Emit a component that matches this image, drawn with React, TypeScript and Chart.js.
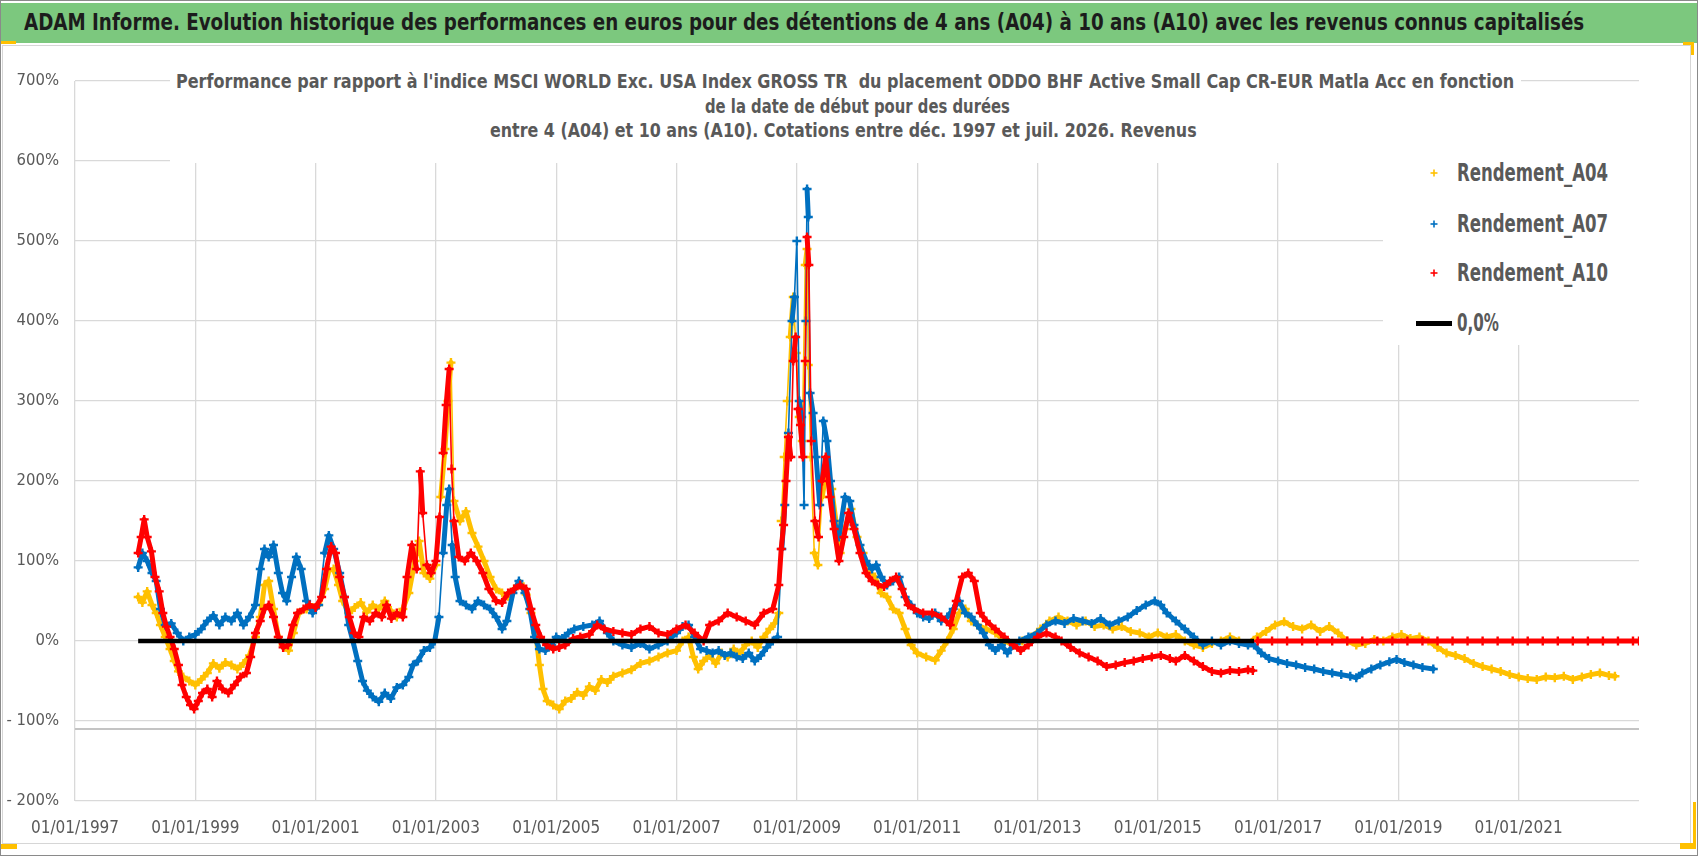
import React, { useEffect, useLayoutEffect, useRef, useState } from "react";
import { Chart, registerables } from "chart.js";

Chart.register(...registerables);

// ---------- texts ----------
const HEADER =
  "ADAM Informe. Evolution historique des performances en euros pour des détentions de 4 ans (A04) à 10 ans (A10) avec les revenus connus capitalisés";
const TITLE_LINES = [
  "Performance par rapport à l'indice MSCI WORLD Exc. USA Index GROSS TR  du placement ODDO BHF Active Small Cap CR-EUR Matla Acc en fonction",
  "de la date de début pour des durées",
  "entre 4 (A04) et 10 ans (A10). Cotations entre déc. 1997 et juil. 2026. Revenus",
];
const SERIES_NAMES = ["Rendement_A04", "Rendement_A07", "Rendement_A10", "0,0%"];

// ---------- axes ----------
const X_MIN = 1997;
const X_MAX = 2023;
const X_TICK_YEARS = [1997, 1999, 2001, 2003, 2005, 2007, 2009, 2011, 2013, 2015, 2017, 2019, 2021];
const Y_MIN = -200;
const Y_MAX = 700;
const Y_STEP = 100;
const AXIS_CROSS = -110;

// ---------- data: [year, performance %] ----------
const A04: [number, number][] = [
  [1998.05, 55], [1998.12, 48], [1998.2, 62], [1998.28, 45], [1998.35, 35], [1998.42, 20], [1998.5, 5], [1998.58, -10],
  [1998.65, -25], [1998.72, -38], [1998.8, -45], [1998.9, -50], [1999.0, -55], [1999.1, -48], [1999.2, -40], [1999.3, -28],
  [1999.4, -34], [1999.5, -27], [1999.6, -30], [1999.7, -35], [1999.8, -28], [1999.9, -18], [2000.0, 5], [2000.08, 30],
  [2000.15, 70], [2000.22, 75], [2000.3, 40], [2000.38, 5], [2000.46, -5], [2000.55, -12], [2000.63, 10], [2000.72, 35],
  [2000.85, 40], [2000.95, 42], [2001.05, 45], [2001.15, 65], [2001.22, 88], [2001.3, 90], [2001.38, 70], [2001.45, 50],
  [2001.55, 35], [2001.65, 42], [2001.75, 48], [2001.85, 36], [2001.95, 45], [2002.05, 40], [2002.15, 50], [2002.25, 38],
  [2002.35, 30], [2002.45, 40], [2002.55, 60], [2002.65, 100], [2002.72, 125], [2002.8, 85], [2002.9, 78], [2003.0, 95],
  [2003.08, 180], [2003.15, 240], [2003.2, 300], [2003.25, 348], [2003.3, 175], [2003.4, 150], [2003.5, 162], [2003.6, 135],
  [2003.7, 118], [2003.8, 100], [2003.9, 80], [2004.0, 65], [2004.1, 60], [2004.2, 56], [2004.3, 65], [2004.4, 72],
  [2004.5, 58], [2004.58, 35], [2004.66, 10], [2004.72, -30], [2004.78, -60], [2004.85, -75], [2004.95, -80], [2005.05, -85],
  [2005.15, -75], [2005.25, -72], [2005.35, -64], [2005.45, -68], [2005.55, -57], [2005.65, -62], [2005.75, -48], [2005.85, -52],
  [2005.95, -44], [2006.1, -40], [2006.25, -36], [2006.4, -28], [2006.55, -25], [2006.7, -20], [2006.85, -15], [2007.0, -12],
  [2007.1, 0], [2007.2, 5], [2007.28, -20], [2007.36, -35], [2007.45, -25], [2007.55, -18], [2007.65, -28], [2007.75, -15],
  [2007.85, -20], [2007.95, -10], [2008.05, -15], [2008.15, -5], [2008.25, 0], [2008.35, -8], [2008.45, 5], [2008.55, 15],
  [2008.63, 22], [2008.7, 35], [2008.74, 150], [2008.79, 230], [2008.84, 300], [2008.89, 380], [2008.94, 430], [2008.99, 360],
  [2009.04, 280], [2009.09, 250], [2009.14, 470], [2009.17, 490], [2009.19, 345], [2009.23, 230], [2009.29, 110], [2009.35, 95],
  [2009.42, 180], [2009.5, 215], [2009.58, 190], [2009.65, 150], [2009.72, 110], [2009.8, 140], [2009.9, 165], [2010.0, 130],
  [2010.1, 110], [2010.2, 85], [2010.3, 80], [2010.4, 60], [2010.5, 55], [2010.6, 40], [2010.7, 35], [2010.8, 15],
  [2010.9, -5], [2011.0, -15], [2011.15, -20], [2011.3, -24], [2011.4, -12], [2011.5, 0], [2011.6, 15], [2011.7, 35],
  [2011.8, 40], [2011.9, 25], [2012.0, 20], [2012.15, 15], [2012.3, 10], [2012.45, 0], [2012.6, -5], [2012.75, 0],
  [2012.9, 5], [2013.05, 15], [2013.2, 25], [2013.35, 30], [2013.5, 25], [2013.65, 20], [2013.8, 25], [2013.95, 18],
  [2014.1, 20], [2014.25, 15], [2014.4, 18], [2014.55, 12], [2014.7, 10], [2014.85, 5], [2015.0, 10], [2015.15, 5],
  [2015.3, 8], [2015.45, 0], [2015.6, -5], [2015.75, -8], [2015.9, -3], [2016.05, 0], [2016.2, 5], [2016.35, 0],
  [2016.5, -3], [2016.65, 5], [2016.8, 12], [2016.95, 20], [2017.1, 24], [2017.25, 18], [2017.4, 15], [2017.55, 20],
  [2017.7, 12], [2017.85, 18], [2018.0, 10], [2018.15, 0], [2018.3, -5], [2018.45, -3], [2018.6, 2], [2018.75, 0],
  [2018.9, 5], [2019.05, 8], [2019.2, 3], [2019.35, 5], [2019.5, 0], [2019.65, -8], [2019.8, -15], [2019.95, -18],
  [2020.1, -22], [2020.25, -28], [2020.4, -32], [2020.55, -35], [2020.7, -38], [2020.85, -42], [2021.0, -45], [2021.15, -47],
  [2021.3, -48], [2021.45, -45], [2021.6, -46], [2021.75, -44], [2021.9, -48], [2022.05, -45], [2022.2, -42], [2022.35, -40],
  [2022.5, -43], [2022.6, -44],
];

const A07: [number, number][] = [
  [1998.05, 92], [1998.12, 110], [1998.2, 100], [1998.28, 85], [1998.35, 75], [1998.42, 40], [1998.5, 20], [1998.6, 22],
  [1998.7, 10], [1998.8, 0], [1998.9, 5], [1999.0, 8], [1999.1, 15], [1999.2, 25], [1999.3, 32], [1999.4, 20],
  [1999.5, 30], [1999.6, 25], [1999.7, 35], [1999.8, 20], [1999.9, 30], [2000.0, 45], [2000.08, 90], [2000.15, 115],
  [2000.22, 105], [2000.3, 120], [2000.38, 85], [2000.45, 60], [2000.52, 50], [2000.6, 80], [2000.68, 105], [2000.76, 90],
  [2000.85, 50], [2000.95, 35], [2001.05, 45], [2001.15, 110], [2001.22, 132], [2001.3, 115], [2001.4, 85], [2001.48, 55],
  [2001.55, 20], [2001.62, 0], [2001.7, -25], [2001.78, -50], [2001.86, -62], [2001.95, -70], [2002.05, -76], [2002.15, -65],
  [2002.25, -72], [2002.35, -58], [2002.45, -55], [2002.55, -45], [2002.62, -30], [2002.7, -25], [2002.8, -12], [2002.9, -8],
  [2002.98, 0], [2003.05, 30], [2003.12, 110], [2003.18, 170], [2003.22, 190], [2003.27, 120], [2003.32, 80], [2003.4, 50],
  [2003.5, 45], [2003.6, 40], [2003.7, 50], [2003.8, 45], [2003.9, 40], [2004.0, 30], [2004.1, 15], [2004.18, 25],
  [2004.28, 60], [2004.38, 75], [2004.48, 60], [2004.56, 40], [2004.64, 5], [2004.72, -10], [2004.82, -12], [2004.92, -5],
  [2005.0, 5], [2005.1, 3], [2005.2, 10], [2005.3, 15], [2005.45, 18], [2005.6, 20], [2005.72, 25], [2005.85, 10],
  [2005.95, 0], [2006.1, -5], [2006.25, -8], [2006.4, -3], [2006.55, -10], [2006.7, -5], [2006.85, 0], [2007.0, 10],
  [2007.1, 18], [2007.2, 20], [2007.3, 5], [2007.4, -10], [2007.5, -12], [2007.6, -15], [2007.7, -12], [2007.8, -18],
  [2007.9, -15], [2008.0, -20], [2008.1, -22], [2008.2, -15], [2008.3, -25], [2008.4, -18], [2008.5, -8], [2008.6, 0],
  [2008.68, 5], [2008.75, 115], [2008.8, 170], [2008.86, 260], [2008.92, 400], [2008.96, 430], [2009.0, 500], [2009.04, 300],
  [2009.08, 280], [2009.12, 170], [2009.15, 400], [2009.17, 565], [2009.19, 530], [2009.22, 310], [2009.27, 285], [2009.32, 230],
  [2009.38, 170], [2009.44, 275], [2009.5, 250], [2009.56, 200], [2009.62, 150], [2009.7, 130], [2009.8, 180], [2009.88, 175],
  [2009.95, 145], [2010.05, 120], [2010.15, 100], [2010.25, 90], [2010.32, 95], [2010.4, 80], [2010.5, 70], [2010.6, 75],
  [2010.7, 80], [2010.8, 55], [2010.9, 45], [2011.0, 35], [2011.1, 30], [2011.2, 28], [2011.3, 35], [2011.4, 25],
  [2011.5, 30], [2011.6, 40], [2011.7, 50], [2011.8, 35], [2011.9, 30], [2012.0, 20], [2012.1, 10], [2012.2, -5],
  [2012.3, -12], [2012.4, -5], [2012.5, -15], [2012.6, -5], [2012.7, 0], [2012.85, 5], [2013.0, 10], [2013.15, 20],
  [2013.3, 25], [2013.45, 22], [2013.6, 28], [2013.75, 25], [2013.9, 22], [2014.05, 28], [2014.2, 20], [2014.35, 25],
  [2014.5, 30], [2014.65, 38], [2014.8, 45], [2014.95, 50], [2015.05, 45], [2015.15, 35], [2015.3, 25], [2015.45, 15],
  [2015.6, 5], [2015.75, -5], [2015.9, 0], [2016.05, -5], [2016.2, 0], [2016.35, -3], [2016.5, -5], [2016.6, -5],
  [2016.72, -15], [2016.85, -22], [2017.0, -25], [2017.15, -28], [2017.3, -30], [2017.45, -33], [2017.6, -35], [2017.75, -38],
  [2017.9, -40], [2018.05, -42], [2018.2, -44], [2018.3, -46], [2018.4, -40], [2018.55, -35], [2018.7, -30], [2018.85, -26],
  [2018.97, -23], [2019.1, -27], [2019.25, -30], [2019.4, -33], [2019.58, -35],
];

const A10: [number, number][] = [
  [1998.05, 110], [1998.1, 130], [1998.15, 152], [1998.2, 130], [1998.27, 112], [1998.33, 80], [1998.4, 62], [1998.46, 35],
  [1998.52, 18], [1998.58, 5], [1998.65, -10], [1998.72, -30], [1998.78, -55], [1998.85, -70], [1998.92, -80], [1998.98, -85],
  [1999.05, -75], [1999.12, -65], [1999.2, -60], [1999.28, -70], [1999.36, -50], [1999.45, -60], [1999.55, -65], [1999.65, -55],
  [1999.75, -45], [1999.85, -40], [1999.92, -20], [2000.0, 10], [2000.08, 25], [2000.15, 40], [2000.22, 45], [2000.3, 30],
  [2000.38, 5], [2000.46, -8], [2000.54, -5], [2000.62, 20], [2000.7, 35], [2000.8, 40], [2000.9, 45], [2001.0, 42],
  [2001.1, 55], [2001.18, 90], [2001.26, 118], [2001.33, 110], [2001.4, 80], [2001.48, 55], [2001.56, 30], [2001.64, 10],
  [2001.72, 5], [2001.8, 30], [2001.9, 25], [2002.0, 35], [2002.1, 30], [2002.18, 45], [2002.26, 28], [2002.35, 35],
  [2002.45, 30], [2002.52, 80], [2002.6, 120], [2002.68, 90], [2002.74, 212], [2002.78, 160], [2002.85, 95], [2002.92, 85],
  [2003.0, 100], [2003.06, 155], [2003.12, 235], [2003.17, 295], [2003.22, 340], [2003.26, 215], [2003.3, 150], [2003.38, 105],
  [2003.48, 100], [2003.58, 110], [2003.68, 100], [2003.78, 85], [2003.88, 65], [2004.0, 50], [2004.1, 48], [2004.2, 60],
  [2004.3, 65], [2004.4, 70], [2004.5, 65], [2004.58, 40], [2004.66, 20], [2004.74, 5], [2004.84, -5], [2004.95, -10],
  [2005.05, -8], [2005.15, -5], [2005.28, 3], [2005.4, 5], [2005.55, 8], [2005.68, 20], [2005.8, 15], [2005.95, 12],
  [2006.1, 10], [2006.25, 8], [2006.4, 15], [2006.55, 18], [2006.7, 10], [2006.85, 8], [2007.0, 15], [2007.15, 20],
  [2007.3, 10], [2007.45, 0], [2007.55, 20], [2007.7, 25], [2007.85, 35], [2008.0, 30], [2008.15, 25], [2008.3, 20],
  [2008.45, 35], [2008.6, 40], [2008.7, 70], [2008.74, 115], [2008.78, 145], [2008.82, 200], [2008.86, 255], [2008.9, 230],
  [2008.94, 350], [2008.98, 380], [2009.02, 290], [2009.06, 270], [2009.1, 230], [2009.14, 350], [2009.17, 505], [2009.2, 470],
  [2009.24, 250], [2009.3, 150], [2009.36, 130], [2009.42, 200], [2009.48, 230], [2009.55, 180], [2009.62, 140], [2009.7, 100],
  [2009.78, 130], [2009.86, 160], [2009.95, 140], [2010.05, 110], [2010.15, 85], [2010.25, 75], [2010.35, 70], [2010.45, 68],
  [2010.55, 75], [2010.65, 80], [2010.75, 65], [2010.85, 45], [2010.95, 40], [2011.1, 35], [2011.25, 35], [2011.4, 30],
  [2011.55, 20], [2011.65, 50], [2011.75, 80], [2011.85, 85], [2011.95, 75], [2012.05, 35], [2012.15, 25], [2012.3, 15],
  [2012.45, 5], [2012.6, -5], [2012.72, -12], [2012.85, -5], [2013.0, 5], [2013.15, 10], [2013.3, 5], [2013.4, 0],
  [2013.55, -8], [2013.7, -15], [2013.85, -20], [2014.0, -25], [2014.15, -32], [2014.3, -30], [2014.45, -27], [2014.6, -25],
  [2014.75, -22], [2014.9, -20], [2015.05, -18], [2015.2, -22], [2015.3, -25], [2015.45, -18], [2015.6, -25], [2015.75, -32],
  [2015.9, -38], [2016.05, -40], [2016.2, -37], [2016.35, -38], [2016.5, -36], [2016.58, -37],
];

const A10_ZERO_TAIL: [number, number][] = [
  [2016.66, 0], [2016.9, 0], [2017.15, 0], [2017.4, 0], [2017.65, 0], [2017.9, 0], [2018.15, 0], [2018.4, 0],
  [2018.65, 0], [2018.9, 0], [2019.15, 0], [2019.4, 0], [2019.65, 0], [2019.9, 0], [2020.15, 0], [2020.4, 0],
  [2020.65, 0], [2020.9, 0], [2021.15, 0], [2021.4, 0], [2021.65, 0], [2021.9, 0], [2022.15, 0], [2022.4, 0],
  [2022.65, 0], [2022.9, 0], [2023.0, 0],
];

const ZERO_LINE: [number, number][] = [[1998.05, 0], [2016.6, 0]];

// ---------- styles ----------
const COLORS = { a04: "#FFC000", a07: "#0070C0", a10: "#FF0000", zero: "#000000" };
const NARROW = "'Liberation Sans Narrow', 'DejaVu Sans Condensed', 'Liberation Sans', sans-serif";
const GRID = "#d9d9d9";
const TEXT_GRAY = "#595959";
const JUMP_LIMIT = 60; // percent: bigger jumps are drawn with a thin connector

const toXY = (pts: [number, number][]) => pts.map(([x, y]) => ({ x, y }));

const crossLinePlugin = {
  id: "crossLine",
  beforeDatasetsDraw(chart: any) {
    const { ctx, chartArea, scales } = chart;
    const y = scales.y.getPixelForValue(AXIS_CROSS);
    ctx.save();
    ctx.strokeStyle = "#c4c4c4";
    ctx.lineWidth = 2;
    ctx.beginPath();
    ctx.moveTo(chartArea.left, y);
    ctx.lineTo(chartArea.right, y);
    ctx.stroke();
    ctx.restore();
  },
};

function FitText(props: {
  text: string; x0: number; x1: number; cy: number; size: number; weight?: number; color: string;
}) {
  const { text, x0, x1, cy, size, weight = 700, color } = props;
  const ref = useRef<HTMLDivElement>(null);
  const [sx, setSx] = useState(1);
  useLayoutEffect(() => {
    const el = ref.current;
    if (!el) return;
    const w = el.offsetWidth;
    if (w > 0) setSx((x1 - x0) / w);
  }, [text, x0, x1, size]);
  return (
    <div
      ref={ref}
      style={{
        position: "absolute",
        left: x0,
        top: cy - size * 0.6,
        fontSize: size,
        lineHeight: `${size * 1.2}px`,
        fontWeight: weight,
        fontFamily: NARROW,
        color,
        whiteSpace: "pre",
        transform: `scaleX(${sx})`,
        transformOrigin: "0 50%",
        zIndex: 4,
      }}
    >
      {text}
    </div>
  );
}

function CrossMark({ cx, cy, color }: { cx: number; cy: number; color: string }) {
  return (
    <svg style={{ position: "absolute", left: cx - 5, top: cy - 5, zIndex: 4 }} width={10} height={10}>
      <line x1={1.5} y1={5} x2={8.5} y2={5} stroke={color} strokeWidth={1.6} />
      <line x1={5} y1={1.5} x2={5} y2={8.5} stroke={color} strokeWidth={1.6} />
    </svg>
  );
}

export default function App() {
  const canvasRef = useRef<HTMLCanvasElement>(null);

  useEffect(() => {
    document.body.style.margin = "0";
    const canvas = canvasRef.current;
    if (!canvas) return;
    const pointDs = (label: string, data: [number, number][], color: string, order: number) => ({
      label,
      data: toXY(data),
      showLine: true,
      borderColor: color,
      backgroundColor: color,
      borderWidth: 5,
      borderJoinStyle: "round",
      borderCapStyle: "round",
      segment: {
        borderWidth: (ctx: any) =>
          Math.abs(ctx.p1.parsed.y - ctx.p0.parsed.y) > JUMP_LIMIT ? 1.6 : 5,
      },
      pointStyle: "cross",
      pointRadius: 4.5,
      pointBorderWidth: 2.4,
      pointBorderColor: color,
      pointBackgroundColor: color,
      order,
    });
    const chart = new Chart(canvas, {
      type: "scatter",
      data: {
        datasets: [
          {
            label: SERIES_NAMES[3],
            data: toXY(ZERO_LINE),
            showLine: true,
            borderColor: COLORS.zero,
            backgroundColor: COLORS.zero,
            borderWidth: 4.5,
            pointRadius: 0,
            order: 0,
          } as any,
          pointDs(SERIES_NAMES[2], A10, COLORS.a10, 1),
          pointDs(SERIES_NAMES[2], A10_ZERO_TAIL, COLORS.a10, 1),
          pointDs(SERIES_NAMES[1], A07, COLORS.a07, 2),
          pointDs(SERIES_NAMES[0], A04, COLORS.a04, 3),
        ],
      },
      options: {
        animation: false,
        responsive: false,
        devicePixelRatio: 1,
        layout: { padding: { left: 0, top: 81, right: 59, bottom: 13 } },
        plugins: {
          legend: { display: false },
          title: { display: false },
          tooltip: { enabled: false },
        },
        scales: {
          x: {
            type: "linear",
            min: X_MIN,
            max: X_MAX,
            afterBuildTicks: (scale: any) => {
              scale.ticks = X_TICK_YEARS.map((v) => ({ value: v }));
            },
            afterFit: (scale: any) => {
              scale.height = 42;
            },
            grid: { color: GRID, lineWidth: 1.3, drawTicks: false },
            border: { display: false },
            ticks: {
              autoSkip: false,
              maxRotation: 0,
              minRotation: 0,
              padding: 17,
              color: TEXT_GRAY,
              font: { family: NARROW, size: 17 },
              callback: (v: any) => `01/01/${v}`,
            },
          },
          y: {
            type: "linear",
            min: Y_MIN,
            max: Y_MAX,
            afterFit: (scale: any) => {
              scale.width = 75;
            },
            grid: { color: GRID, lineWidth: 1.3, drawTicks: false },
            border: { display: false },
            ticks: {
              stepSize: Y_STEP,
              padding: 16,
              color: TEXT_GRAY,
              font: { family: NARROW, size: 16.5 },
              callback: (v: any) => (Number(v) < 0 ? `- ${Math.abs(Number(v))}%` : `${v}%`),
            },
          },
        },
      } as any,
      plugins: [crossLinePlugin],
    });
    return () => chart.destroy();
  }, []);

  const legendItems = [
    { name: SERIES_NAMES[0], color: COLORS.a04, cy: 173 },
    { name: SERIES_NAMES[1], color: COLORS.a07, cy: 224 },
    { name: SERIES_NAMES[2], color: COLORS.a10, cy: 273 },
  ];

  return (
    <div style={{ position: "absolute", left: 0, top: 0, width: 1698, height: 856, background: "#fff", overflow: "hidden" }}>
      <div style={{ position: "absolute", left: 0, top: 0, width: 1696, height: 854, border: "1px solid #8a8a8a", zIndex: 6, pointerEvents: "none" }} />
      <div style={{ position: "absolute", left: 1, top: 3, width: 1696, height: 40, background: "#7cc87e", zIndex: 2 }} />
      <FitText text={HEADER} x0={24} x1={1584} cy={23} size={23} color="#1c1c1c" />
      <div style={{ position: "absolute", left: 2, top: 45, width: 1687, height: 797, border: "1px solid #d6d6d6", zIndex: 1, pointerEvents: "none" }} />
      <canvas
        ref={canvasRef}
        width={1698}
        height={856}
        style={{ position: "absolute", left: 0, top: 0, width: 1698, height: 856, zIndex: 1 }}
      />
      <div style={{ position: "absolute", left: 170, top: 66, width: 1351, height: 97, background: "#fff", zIndex: 3 }} />
      <FitText text={TITLE_LINES[0]} x0={176} x1={1514} cy={81} size={20} color={TEXT_GRAY} />
      <FitText text={TITLE_LINES[1]} x0={705} x1={1010} cy={106} size={20} color={TEXT_GRAY} />
      <FitText text={TITLE_LINES[2]} x0={490} x1={1197} cy={130} size={20} color={TEXT_GRAY} />
      <div style={{ position: "absolute", left: 1383, top: 150, width: 262, height: 195, background: "#fff", zIndex: 3 }} />
      {legendItems.map((it) => (
        <React.Fragment key={it.name}>
          <CrossMark cx={1434} cy={it.cy} color={it.color} />
          <FitText text={it.name} x0={1457} x1={1608} cy={it.cy} size={24} color={TEXT_GRAY} />
        </React.Fragment>
      ))}
      <div style={{ position: "absolute", left: 1416, top: 321, width: 36, height: 4.5, background: "#000", zIndex: 4 }} />
      <FitText text={SERIES_NAMES[3]} x0={1457} x1={1499} cy={323} size={24} color={TEXT_GRAY} />
      <div style={{ position: "absolute", left: 0, top: 41, width: 16, height: 3, background: "#FFC000", zIndex: 5 }} />
      <div style={{ position: "absolute", left: 1683, top: 42, width: 11, height: 3, background: "#FFC000", zIndex: 5 }} />
      <div style={{ position: "absolute", left: 1691, top: 42, width: 3, height: 13, background: "#FFC000", zIndex: 5 }} />
      <div style={{ position: "absolute", left: 0, top: 844, width: 17, height: 5, background: "#FFC000", zIndex: 5 }} />
      <div style={{ position: "absolute", left: 1693, top: 802, width: 3, height: 47, background: "#FFC000", zIndex: 5 }} />
      <div style={{ position: "absolute", left: 1680, top: 843, width: 16, height: 6, background: "#FFC000", zIndex: 5 }} />
    </div>
  );
}
